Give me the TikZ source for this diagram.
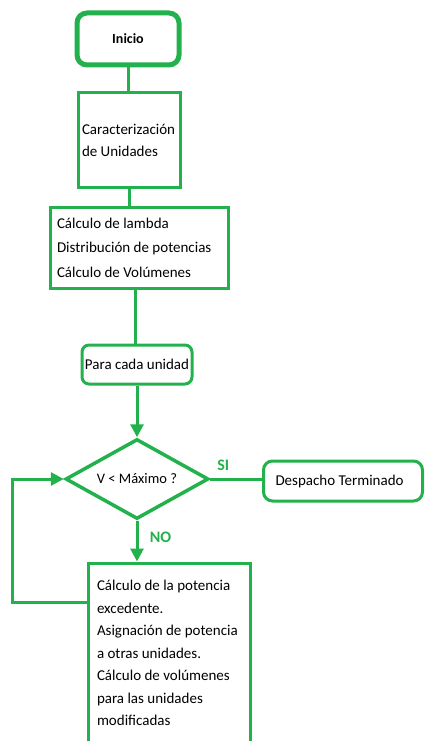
\documentclass[tikz,border=0pt]{standalone}
\usepackage{fontspec}
\setmainfont{Carlito}
\usetikzlibrary{positioning}
\usetikzlibrary{shapes, arrows.meta}
\definecolor{verde}{RGB}{34,177,76}

\begin{document}
\hyphenpenalty=10000\relax
\begin{tikzpicture}[x=1pt,y=-1pt,
    caja/.style={draw=verde,line width=3pt,fill=white,inner sep=0pt,font=\fontsize{15}{22}\selectfont},
    redonda/.style={caja,rounded corners=7pt},
    flecha/.style={draw=verde,line width=3pt,-{Triangle[length=13pt,width=13pt]}},
    linea/.style={draw=verde,line width=3pt},
    etiq/.style={text=verde,font=\fontsize{16}{16}\selectfont\bfseries}]
					\useasboundingbox (0,0) rectangle (424,741);
					\node[redonda,line width=5pt,rounded corners=10pt,minimum width=102pt,minimum height=52pt,font=\fontsize{14}{16}\selectfont\bfseries] (inicio) at (128,39) {Inicio};
					\node[caja,minimum width=102pt,minimum height=94pt,text width=94pt,align=flush left] (carac) at (129,140) {Caracterización\\de Unidades};
					\node[caja,minimum width=178pt,minimum height=81pt,text width=164pt,align=flush left,font=\fontsize{15}{24.5}\selectfont] (calc) at (139,247.5) {Cálculo de lambda\\Distribución de potencias\\Cálculo de Volúmenes};
					\node[redonda,minimum width=110pt,minimum height=39pt] (para) at (137,364.5) {Para cada unidad};
					\node[caja,shape=diamond,aspect=1.8,line width=3.5pt,minimum width=143pt,minimum height=80pt,font=\fontsize{14.5}{16}\selectfont] (cond) at (137,479) {V < Máximo ?};
					\node[redonda,rounded corners=9pt,minimum width=159pt,minimum height=40pt,text width=135pt,align=flush left] (fin) at (343,481) {Despacho Terminado};
					\node[caja,minimum width=162pt,minimum height=180pt,text width=144pt,align=flush left,font=\fontsize{15}{22.5}\selectfont] (excede) at (169,653) {Cálculo de la potencia\\excedente.\\Asignación de potencia\\a otras unidades.\\Cálculo de volúmenes\\para las unidades\\modificadas};
					% conectores
					\draw[linea] (inicio) -- (carac.north -| inicio);
					\draw[linea] (carac) -- (carac.south |- calc.north);
					\draw[linea] ([xshift=-4pt]calc.south) -- ([xshift=-4pt]calc.south |- para.north);
					\draw[flecha] (para) -- (cond.north);
					\draw[linea] (cond.east) -- (cond.east -| fin.west) node[etiq,pos=0.25,above=4pt] (si) {SI};
					\draw[flecha] (cond.south) -- (excede.north -| cond.south) node[etiq,pos=0.4,right=8pt] (no) {NO};
					\coordinate (ret) at (12,602);
					\draw[flecha] (excede.west |- ret) -- (ret) |- (cond.west);
				\end{tikzpicture}
\end{document}
